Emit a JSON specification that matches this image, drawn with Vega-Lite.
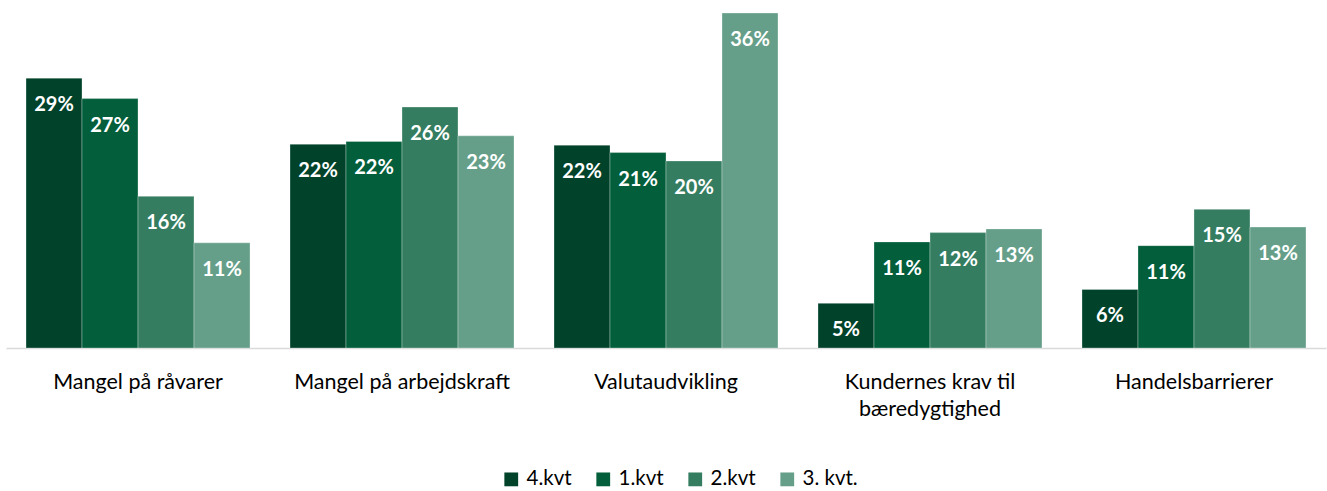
{
  "$schema": "https://vega.github.io/schema/vega-lite/v6.json",
  "width": 1320,
  "height": 335,
  "autosize": {"type": "none"},
  "padding": {"left": 6, "top": 13, "right": 1, "bottom": 143},
  "background": "white",
  "config": {"view": {"stroke": null}, "font": "Lato"},
  "data": {
    "values": [
      {"kat": "Mangel på råvarer", "periode": "4.kvt", "v": 0.290},
      {"kat": "Mangel på råvarer", "periode": "1.kvt", "v": 0.268},
      {"kat": "Mangel på råvarer", "periode": "2.kvt", "v": 0.163},
      {"kat": "Mangel på råvarer", "periode": "3. kvt.", "v": 0.113},
      {"kat": "Mangel på arbejdskraft", "periode": "4.kvt", "v": 0.219},
      {"kat": "Mangel på arbejdskraft", "periode": "1.kvt", "v": 0.222},
      {"kat": "Mangel på arbejdskraft", "periode": "2.kvt", "v": 0.259},
      {"kat": "Mangel på arbejdskraft", "periode": "3. kvt.", "v": 0.228},
      {"kat": "Valutaudvikling", "periode": "4.kvt", "v": 0.218},
      {"kat": "Valutaudvikling", "periode": "1.kvt", "v": 0.210},
      {"kat": "Valutaudvikling", "periode": "2.kvt", "v": 0.201},
      {"kat": "Valutaudvikling", "periode": "3. kvt.", "v": 0.360},
      {"kat": "Kundernes krav til bæredygtighed", "periode": "4.kvt", "v": 0.048},
      {"kat": "Kundernes krav til bæredygtighed", "periode": "1.kvt", "v": 0.114},
      {"kat": "Kundernes krav til bæredygtighed", "periode": "2.kvt", "v": 0.124},
      {"kat": "Kundernes krav til bæredygtighed", "periode": "3. kvt.", "v": 0.128},
      {"kat": "Handelsbarrierer", "periode": "4.kvt", "v": 0.063},
      {"kat": "Handelsbarrierer", "periode": "1.kvt", "v": 0.110},
      {"kat": "Handelsbarrierer", "periode": "2.kvt", "v": 0.149},
      {"kat": "Handelsbarrierer", "periode": "3. kvt.", "v": 0.130}
    ]
  },
  "encoding": {
    "x": {
      "field": "kat",
      "type": "nominal",
      "sort": null,
      "title": null,
      "scale": {"paddingInner": 0.1515, "paddingOuter": 0.0758},
      "axis": {
        "labelAngle": 0,
        "labelFontSize": 21.5,
        "labelColor": "#000000",
        "labelPadding": 34,
        "labelBaseline": "middle",
        "labelLineHeight": 27,
        "labelLimit": 0,
        "ticks": false,
        "domainColor": "#D9D9D9",
        "domainWidth": 1.5,
        "labelExpr": "datum.value == 'Kundernes krav til bæredygtighed' ? ['Kundernes krav til', 'bæredygtighed'] : datum.value"
      }
    },
    "xOffset": {
      "field": "periode",
      "type": "nominal",
      "sort": ["4.kvt", "1.kvt", "2.kvt", "3. kvt."],
      "scale": {"paddingInner": 0, "paddingOuter": 0}
    },
    "y": {
      "field": "v",
      "type": "quantitative",
      "scale": {"domain": [0, 0.36], "nice": false},
      "axis": null
    }
  },
  "layer": [
    {
      "mark": {"type": "bar", "stroke": "white", "strokeWidth": 0.6, "strokeOpacity": 0.5},
      "encoding": {
        "color": {
          "field": "periode",
          "type": "nominal",
          "sort": ["4.kvt", "1.kvt", "2.kvt", "3. kvt."],
          "scale": {
            "domain": ["4.kvt", "1.kvt", "2.kvt", "3. kvt."],
            "range": ["#01422A", "#025E3B", "#347D61", "#669F89"]
          },
          "legend": {
            "title": null,
            "orient": "none",
            "direction": "horizontal",
            "legendX": 495,
            "legendY": 456,
            "symbolType": "square",
            "symbolSize": 190,
            "symbolStrokeWidth": 0,
            "labelFontSize": 20.5,
            "labelColor": "#000000",
            "labelOffset": 5,
            "columnPadding": 21
          }
        }
      }
    },
    {
      "mark": {
        "type": "text",
        "baseline": "middle",
        "align": "center",
        "dy": 27,
        "fontSize": 20,
        "fontWeight": "bold",
        "color": "white"
      },
      "encoding": {
        "text": {"field": "v", "type": "quantitative", "format": ".0%"}
      }
    }
  ]
}
